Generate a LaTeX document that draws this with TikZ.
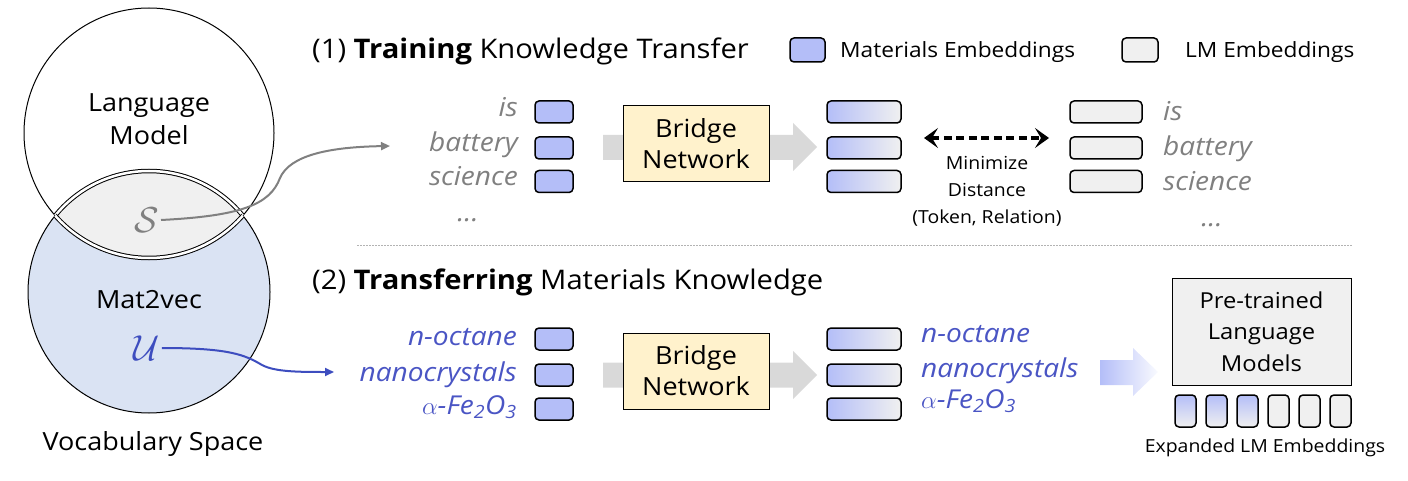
\documentclass[tikz,border=0pt]{standalone}
\usepackage{fontspec}
\setmainfont{Open Sans}[FakeStretch=1.08]
\usetikzlibrary{arrows.meta}

\definecolor{matblue}{HTML}{B4BEF8}
\definecolor{lmgray}{HTML}{F0F0F0}
\definecolor{vsblue}{HTML}{DAE3F3}
\definecolor{bridgefill}{HTML}{FFF2CC}
\definecolor{arrowgray}{HTML}{D9D9D9}
\definecolor{wordgray}{HTML}{808080}
\definecolor{wordblue}{HTML}{4A55C4}
\definecolor{linkblue}{HTML}{3D4DBF}

\newcommand{\bigtxt}{\fontsize{25}{31}\selectfont}
\newcommand{\titletxt}{\fontsize{27}{31}\selectfont}
\newcommand{\legtxt}{\fontsize{21}{26}\selectfont}
\newcommand{\wordtxt}{\fontsize{26}{31}\selectfont}
\newcommand{\smalltxt}{\fontsize{18}{26.5}\selectfont}

\tikzset{
  emb/.style={draw, line width=1.5pt, rounded corners=4pt, minimum height=22pt, inner sep=0pt},
  matemb/.style={emb, fill=matblue, minimum width=38pt},
  grademb/.style={emb, left color=matblue, right color=lmgray, minimum width=74pt},
  lmemb/.style={emb, fill=lmgray, minimum width=72pt},
  tallemb/.style={emb, minimum width=21pt, minimum height=32pt},
  bridge/.style={draw, line width=1pt, fill=bridgefill, minimum width=146pt, minimum height=76pt, align=center, font=\bigtxt},
  lens/.style={line width=1pt, double=white, double distance=2.5pt},
  setsym/.style={inner sep=1pt, scale=1.45, font=\bigtxt},
  txt/.style={inner sep=0pt, font=\bigtxt},
  word/.style={inner sep=0pt, font=\wordtxt\itshape, text=wordgray},
  matword/.style={inner sep=0pt, font=\wordtxt\itshape, text=wordblue}
}

\begin{document}
\begin{tikzpicture}[x=1pt,y=-1pt]
	\useasboundingbox (0,0) rectangle (1408,481);
	
	% vocabulary space
	\coordinate (lmc) at (149,133);
	\coordinate (mvc) at (149,292);
	\fill[vsblue] (mvc) circle (121pt);
	\begin{scope}
		\clip (lmc) circle (125pt);
		\fill[lmgray] (mvc) circle (121pt);
	\end{scope}
	\draw[line width=1pt] (lmc) circle (125pt);
	\draw[line width=1pt] (mvc) circle (121pt);
	\begin{scope}
		\clip (lmc) circle (125pt);
		\draw[lens] (mvc) circle (121pt);
	\end{scope}
	\begin{scope}
		\clip (mvc) circle (121pt);
		\draw[lens] (lmc) circle (125pt);
	\end{scope}
	
	\node[txt, anchor=base] (lmname) at (149,112) {Language};
	\node[txt, anchor=base] (lmname2) at (149,145) {Model};
	\node[txt, anchor=base] (mvname) at (149,308) {Mat2vec};
	\node[txt, anchor=base] (vsname) at (153,450) {Vocabulary Space};
	\node[setsym, text=wordgray] (sset) at (147,220) {$\mathcal{S}$};
	\node[setsym, text=linkblue] (uset) at (147,348) {$\mathcal{U}$};
	
	\coordinate (strain) at (390,146);
	\coordinate (utrans) at (334,372);
	\draw[wordgray, line width=2pt, -{Triangle[length=9pt,width=8pt]}] (sset.east) .. controls (240,216) and (270,205) .. (280,178) .. controls (290,155) and (330,147) .. (strain);
	\draw[linkblue, line width=2pt, -{Triangle[length=9pt,width=8pt]}] (uset.east) .. controls (230,348) and (245,355) .. (262,365) .. controls (275,372) and (300,372) .. (utrans);
	
	% (1) training
	\node[txt, anchor=base west, font=\titletxt] (title1) at (312,59) {(1) \textbf{Training} Knowledge Transfer};
	\node[matemb, minimum width=35pt, minimum height=24pt] (legm) at (807.5,50) {};
	\node[txt, anchor=base west, font=\legtxt] (legmt) at (840,58) {Materials Embeddings};
	\node[lmemb, minimum width=36pt, minimum height=24pt] (legl) at (1140,50) {};
	\node[txt, anchor=base west, font=\legtxt] (leglt) at (1185,58) {LM Embeddings};
	
	\fill[arrowgray] (603,135) -- (793,135) -- (793,123) -- (817,147) -- (793,171) -- (793,160) -- (603,160) -- cycle;
	\node[bridge] (br1) at (696,144) {Bridge\\Network};
	
	\node[word, anchor=base east] (w1) at (518,117) {is};
	\node[word, anchor=base east] (w2) at (518,152) {battery};
	\node[word, anchor=base east] (w3) at (518,186) {science};
	\node[word, anchor=base] (w4) at (468,222) {...};
	
	\node[matemb] (ma1) at (554,112) {};
	\node[matemb] (ma2) at (554,148) {};
	\node[matemb] (ma3) at (554,181.5) {};
	
	\node[grademb] (ga1) at (864,112) {};
	\node[grademb] (ga2) at (864,148) {};
	\node[grademb] (ga3) at (864,181.5) {};
	
	\coordinate (d1) at (924,138);
	\coordinate (d2) at (1049,138);
	\draw[line width=3.4pt, dash pattern=on 8pt off 4.5pt, {Stealth[length=14pt,width=20pt,inset=6pt]}-{Stealth[length=14pt,width=20pt,inset=6pt]}] (d1) -- (d2);
	\node[txt, font=\smalltxt, anchor=base] (dist1) at (987,170) {Minimize};
	\node[txt, font=\smalltxt, anchor=base] (dist2) at (987,197) {Distance};
	\node[txt, font=\smalltxt, anchor=base] (dist3) at (987,223) {(Token, Relation)};
	
	\node[lmemb] (la1) at (1106,112) {};
	\node[lmemb] (la2) at (1106,148) {};
	\node[lmemb] (la3) at (1106,181.5) {};
	
	\node[word, anchor=base west] (v1) at (1163,121) {is};
	\node[word, anchor=base west] (v2) at (1163,156) {battery};
	\node[word, anchor=base west] (v3) at (1163,191) {science};
	\node[word, anchor=base] (v4) at (1212,226) {...};
	
	\draw[wordgray!60, line width=0.6pt, dash pattern=on 2pt off 1pt] (357,245) -- (1352,245);
	
	% (2) transferring
	\node[txt, anchor=base west, font=\titletxt] (title2) at (312,289) {(2) \textbf{Transferring} Materials Knowledge};
	
	\fill[arrowgray] (603,362.5) -- (793,362.5) -- (793,351) -- (817,375) -- (793,399) -- (793,387.5) -- (603,387.5) -- cycle;
	\node[bridge] (br2) at (696,371) {Bridge\\Network};
	
	\node[matword, anchor=base east] (m1) at (517,345) {n-octane};
	\node[matword, anchor=base east] (m2) at (517,381) {nanocrystals};
	\node[matword, anchor=base east] (m3) at (517,414) {$\alpha$-Fe\textsubscript{2}O\textsubscript{3}};
	
	\node[matemb] (mb1) at (554,339) {};
	\node[matemb] (mb2) at (554,375) {};
	\node[matemb] (mb3) at (554,409) {};
	
	\node[grademb] (gb1) at (864,339) {};
	\node[grademb] (gb2) at (864,375) {};
	\node[grademb] (gb3) at (864,409) {};
	
	\node[matword, anchor=base west] (n1) at (921,342) {n-octane};
	\node[matword, anchor=base west] (n2) at (921,377) {nanocrystals};
	\node[matword, anchor=base west] (n3) at (921,408) {$\alpha$-Fe\textsubscript{2}O\textsubscript{3}};
	
	\shade[left color=matblue, right color=matblue!8] (1100,360) -- (1133,360) -- (1133,348) -- (1158,372) -- (1133,396) -- (1133,385) -- (1100,385) -- cycle;
	
	\node[draw, line width=1pt, fill=lmgray, minimum width=179pt, minimum height=107pt, align=center, font=\fontsize{22}{31.5}\selectfont] (plm) at (1261.5,331.5) {Pre-trained\\Language\\Models};
	
	\node[tallemb, top color=matblue, bottom color=lmgray] (x1) at (1185.5,411) {};
	\node[tallemb, top color=matblue, bottom color=lmgray] (x2) at (1216.5,411) {};
	\node[tallemb, top color=matblue, bottom color=lmgray] (x3) at (1247.5,411) {};
	\node[tallemb, fill=lmgray] (x4) at (1278.5,411) {};
	\node[tallemb, fill=lmgray] (x5) at (1309.5,411) {};
	\node[tallemb, fill=lmgray] (x6) at (1340.5,411) {};
	\node[txt, font=\smalltxt, anchor=base] (expd) at (1265,452) {Expanded LM Embeddings};
	
\end{tikzpicture}
\end{document}
